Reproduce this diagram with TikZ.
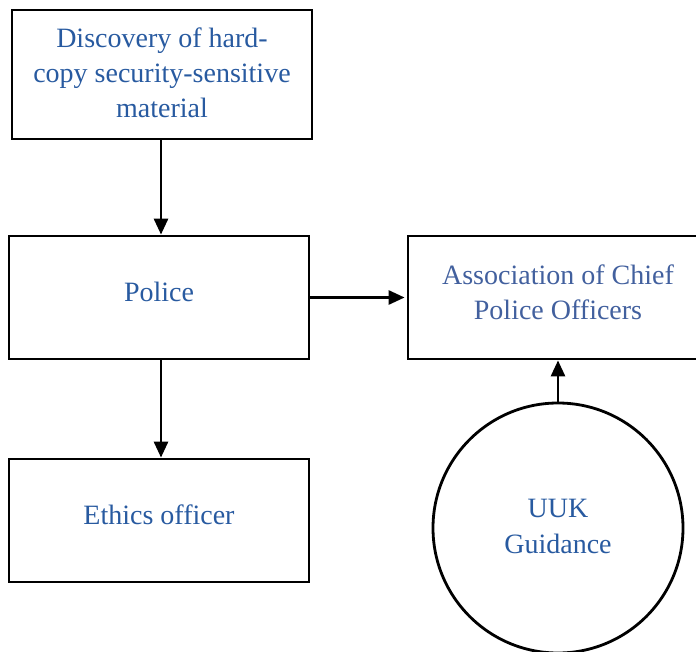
\documentclass[tikz,border=0pt]{standalone}
\usepackage{fontspec}
\setmainfont{Liberation Serif}
\usepackage{tikz}
\usetikzlibrary{arrows.meta, calc, positioning, shapes.geometric}
\definecolor{txtblue}{RGB}{40,90,160}
\definecolor{txtgrey}{RGB}{66,96,158}

\begin{document}
\begin{tikzpicture}[x=1pt, y=-1pt,
    box/.style={draw, line width=2.8pt, rectangle, minimum width=300pt, align=center,
        font=\fontsize{28}{35}\selectfont},
    bubble/.style={draw, line width=2.8pt, circle, minimum size=250pt, align=center,
        font=\fontsize{28}{36}\selectfont},
    flow/.style={-{Triangle[length=16pt, width=14pt]}, line width=2.8pt}]
    % 画布
    \useasboundingbox (0, 0) rectangle (696, 652);
    \clip (0, 0) rectangle (696, 652);

    % 方框
    \node[box, minimum height=129pt, text depth=4pt, text=txtblue] (disc) at (162, 74.5)
        {Discovery of hard-\\copy security-sensitive\\material};
    \node[box, minimum height=123pt, text depth=12pt, text=txtblue] (police) at (159, 297.5) {Police};
    \node[box, minimum height=123pt, text depth=12pt, text=txtblue] (ethics) at (159, 520.5) {Ethics officer};
    \node[box, minimum height=123pt, text depth=10pt, text=txtgrey] (acpo) at (558, 297.5)
        {Association of Chief\\Police Officers};
    \node[bubble, text depth=4pt, text=txtblue] (uuk) at (558, 528) {UUK\\Guidance};

    % 箭头
    \draw[flow] (disc.south -| 161, 0) -- (police.north -| 161, 0);
    \draw[flow] (police.south -| 161, 0) -- (ethics.north -| 161, 0);
    \draw[flow] (police.east) -- ([xshift=-2pt]acpo.west);
    \draw[flow] (uuk.north) -- (acpo.south);
\end{tikzpicture}
\end{document}
